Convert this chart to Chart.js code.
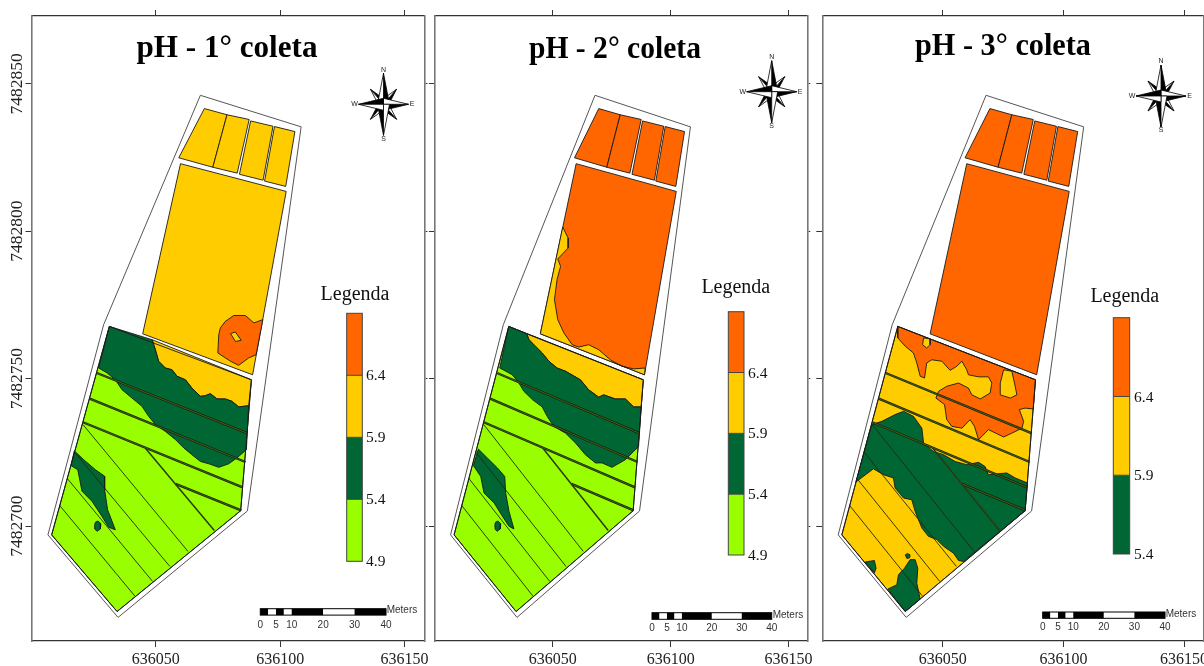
<!DOCTYPE html>
<html lang="pt">
<head>
<meta charset="utf-8">
<title>pH - coletas</title>
<style>
html,body{margin:0;padding:0;background:#fff;width:1204px;height:666px;overflow:hidden}
canvas{position:absolute;top:0}
</style>
<script src="https://cdn.jsdelivr.net/npm/chart.js@4"></script>
</head>
<body>
<script>
// ---------- data: map coordinates in metres, relative to the origin below ----------
const originX = 636000;
const originY = 7482700;
const xTicks = [636050, 636100, 636150];
const yTicks = [7482700, 7482750, 7482800, 7482850];
const xMin = 636000, xMax = 636158, yMin = 7482661, yMax = 7482873;

const titles = ['pH - 1° coleta', 'pH - 2° coleta', 'pH - 3° coleta'];
const legendTitle = 'Legenda';
const lime = '#99ff00', dark = '#006633', yellow = '#ffcc00', orange = '#ff6600';

const legendValuesA = [4.9, 5.4, 5.9, 6.4];
const legendColorsA = [lime, dark, yellow, orange];
const legendValuesC = [5.4, 5.9, 6.4];
const legendColorsC = [dark, yellow, orange];

const scaleBarStops = [0, 2.5, 5, 7.5, 10, 20, 30, 40];
const scaleBarLabels = [0, 5, 10, 20, 30, 40];

const outerBoundary = [[67.9,146.1],[108.4,135.4],[86.8,5.1],[34.8,-31],[6.6,-3],[29,68.3]];
const blockA1 = [[69.5,141.6],[78.6,139.5],[72.9,121.7],[59.2,124.9]];
const blockA2 = [[78.6,139.5],[87.5,137.9],[82.7,119.7],[72.9,121.7]];
const blockA3 = [[88.1,137.4],[97.1,135.6],[93.1,117.3],[83.6,119.3]];
const blockA4 = [[97.7,135.5],[105.9,133.8],[102.2,115.2],[93.7,117]];
const blockB = [[59.9,122.9],[102.4,113.5],[88.9,51.3],[44.7,65.2]];
const blockC = [[31.3,67.7],[88.4,49.6],[84.1,5.2],[34.4,-29],[8.1,-3]];

const strip1 = [[26.3,51.9],[86.7,31.5]];
const strip2 = [[23.4,43.2],[86,21.7]];
const strip3 = [[20.7,35.2],[84.9,13.1]];
const strip4 = [[57.9,14.3],[84.3,5.3]];
const strip5 = [[45.8,26.4],[73.5,-1.5]];
const row1 = [[20.7,34.4],[62.9,-8.6]];
const row2 = [[17.2,25.2],[55.6,-13.7]];
const row3 = [[14.3,16.2],[48.7,-18.8]];
const row4 = [[11.3,7],[41.5,-23.7]];

// 1st collection
const p1Orange = [[75.3,64.9],[75.9,67.2],[77.9,69.4],[81.3,71.4],[86,71.4],[89.4,68.9],[93,70],[90.3,58.1],[87.3,57],[83.3,54.5],[80,55.9],[74.9,58.7]];
const p1OrangeHole = [[80,65.3],[82,65.8],[84.3,63],[82,62.6]];
const p1Yellow = [[48.5,63.2],[49.8,59.8],[51.1,55.9],[53.8,53.6],[56.5,53],[58.5,50.8],[61.9,49.6],[64.5,46.8],[67.9,44],[69.9,44.2],[71.9,44.9],[74.6,43.1],[77.9,43.1],[80.6,42.3],[83.3,40.4],[87.3,40.8],[88.4,49.6]];
const p1Dark = [[31.3,67.7],[48.5,63.2],[49.8,59.8],[51.1,55.9],[53.8,53.6],[56.5,53],[58.5,50.8],[61.9,49.6],[64.5,46.8],[67.9,44],[69.9,44.2],[71.9,44.9],[74.6,43.1],[77.9,43.1],[80.6,42.3],[83.3,40.4],[87.3,40.8],[86.4,25.9],[82.6,23.1],[79.3,21.1],[75.3,19.9],[71.3,21.1],[67.9,21.9],[64.5,24.2],[61.2,26.5],[57.9,29.3],[53.8,32.1],[49.8,34.4],[47.1,37.2],[44.4,40.6],[40.4,43.4],[36.4,46.2],[33.7,49.6],[30.4,51.9],[27,53.6]];
const p1Patch = [[17.2,25.5],[21,22.5],[25.7,19.1],[29.4,16.9],[29.4,12.3],[30.6,5.5],[33.7,-1.3],[31,-0.4],[28.3,3.3],[24.3,8.4],[20.3,11.8],[18.6,19.1],[15.9,20.5]];
const dotDark = [[25.4,0.4],[25.7,1.3],[26.7,1.7],[27.9,0.8],[27.7,-1],[26.3,-1.8],[25.5,-1]];

// 2nd collection
const p2YellowB = [[54.2,101.4],[56.5,97.7],[56.5,94.3],[52.1,90.6],[53.3,88.1],[51.8,83.6],[50.7,76.8],[52.1,70],[54.7,65.5],[58.2,61.5],[61,60.7],[65.2,61.5],[69.5,59.8],[74.4,56.4],[79.3,54.2],[84.3,53.3],[89.2,53.6],[88.9,51.3],[44.7,65.2]];
const p2Yellow = [[38.9,65.2],[39.9,63.2],[42.7,60.9],[45.5,58.7],[48.3,55.9],[51.8,53.6],[55.4,52.5],[61.7,49.6],[65.2,46.2],[69.5,43.7],[71.6,44.5],[76.5,43.1],[80.8,43.1],[84.3,40.4],[87.5,40.4],[88.4,49.6]];
const p2Dark = [[31.3,67.7],[38.9,65.2],[39.9,63.2],[42.7,60.9],[45.5,58.7],[48.3,55.9],[51.8,53.6],[55.4,52.5],[61.7,49.6],[65.2,46.2],[69.5,43.7],[71.6,44.5],[76.5,43.1],[80.8,43.1],[84.3,40.4],[87.5,40.4],[86.4,27],[84.3,25.3],[80.8,22.5],[75.1,19.9],[70.9,21.4],[68.1,21.4],[63.8,24.2],[59.6,28.2],[55.4,31.5],[50.4,33.8],[47.6,37.2],[45.5,40.4],[41.3,42.9],[37.7,45.7],[35.6,48.5],[32.8,51.3],[27.5,53.6]];
const p2Patch = [[18.4,26.1],[22.2,23.1],[26.5,19.7],[29.6,16.8],[30,11.2],[31.4,5],[33.5,-1],[31.4,-0.1],[28.6,3.3],[25.1,7.8],[20.8,11.2],[19.4,16.8],[16.3,20.5]];

// 3rd collection
const p3Orange = [[31.3,63.8],[34.4,61],[37.8,58.7],[39.2,55.3],[40.6,50.8],[42.4,50.2],[43.3,55.3],[45.4,56.4],[49.6,55.9],[53,52.8],[55.8,54.2],[57.9,55.9],[59.9,53],[60.6,51.3],[64.8,50.6],[68.9,50.6],[70.3,48.5],[69.6,45.1],[65.5,43.1],[62,44.5],[60.6,46.8],[56.5,48.5],[51.6,47.4],[48.2,45.7],[47.1,43.4],[50.7,41.2],[51.6,36.1],[53.7,33.8],[57.9,33.2],[61.3,36.1],[63.1,33.8],[64.8,29.3],[68.9,32.7],[75.2,30.2],[78.6,31.5],[82.8,33.2],[83.5,35.5],[81.7,39.5],[84.1,40],[87.5,39.7],[88.4,49.6],[31.3,67.7]];
const p3Island1 = [[42,63.8],[44.7,63.5],[44.7,61.5],[43.3,60.4],[41.6,61.5]];
const p3Island2 = [[75.2,53],[78.6,52.5],[79.7,48.5],[80.7,44.5],[78,43.4],[73.8,44.5],[73.8,48.5]];
const p3Dark = [[20.5,34.4],[24.7,35.5],[30.2,37.8],[33.7,38.9],[37.8,37.2],[41.3,33.2],[42,28.1],[46.1,25.3],[50.3,24.2],[55.1,21.9],[59.9,20.8],[64.8,21.6],[67.5,20.2],[68.9,17.4],[76.5,18],[80,16.3],[85.1,14.6],[84.1,5.2],[58.6,-12],[56.5,-11.7],[54.4,-9.2],[50.3,-6.9],[47.5,-4.6],[44,-3.5],[41.3,-0.7],[38.5,5],[37.1,8.9],[33.7,9.5],[30.2,12.9],[29.5,16.3],[25.4,17.4],[21.2,19.4],[13.9,14.9]];
const p3DarkTip = [[34.4,-29],[40.6,-24.8],[39.2,-19.4],[39.6,-14.3],[38.5,-11.4],[36.4,-11.4],[34.1,-14.3],[31.6,-16.5],[30.9,-19.9],[27.2,-21.4]];
const p3DarkDot = [[34.4,-9.8],[35.3,-9.3],[36.4,-9.8],[36.2,-10.8],[35.1,-11]];
const p3DarkEdge = [[17.8,-12.2],[21.6,-11.7],[22.3,-14.3],[21.6,-15.9]];

// ---------- layout of the three map sheets ----------
const FONT_SERIF = '"Liberation Serif","DejaVu Serif",serif';
const FONT_SANS = '"Liberation Sans Narrow","Liberation Sans",sans-serif';
const H = 666, TOP = 16, BOTTOM = 25;
const sheets = [
 { left:0, width:437, axisL:31.5, axisR:12.5, yLabels:true,
   title:{x:227,y:57,w:181}, compass:{x:383.5,y:104.3},
   legend:{tx:355,ty:300,x:346.7,w:15.6,top:313.3,bottom:561.3,lx:366,values:legendValuesA,colors:legendColorsA},
   bar:{x:260.3,w:125.7,y:608.7,h:6.4,ly:625,mx:386.7,my:610.5},
   blocks:yellow, base:lime,
   zones:[[p1Orange,orange],[p1OrangeHole,yellow],[p1Yellow,yellow],[p1Dark,dark],[p1Patch,dark],[dotDark,dark]] },
 { left:429, width:390, axisL:6, axisR:11.7, yLabels:false,
   title:{x:615,y:58,w:172}, compass:{x:771.7,y:91.7},
   legend:{tx:735.8,ty:293,x:728.3,w:15.7,top:311.7,bottom:555,lx:748,values:legendValuesA,colors:legendColorsA},
   bar:{x:652,w:119.7,y:612.7,h:6.6,ly:628.7,mx:772.7,my:615},
   blocks:orange, base:lime,
   zones:[[p2YellowB,yellow],[p2Yellow,yellow],[p2Dark,dark],[p2Patch,dark],[dotDark,dark]] },
 { left:816, width:400, axisL:6.3, axisR:12.7, yLabels:false,
   title:{x:1003,y:55,w:176}, compass:{x:1161,y:96},
   legend:{tx:1124.8,ty:302,x:1113.3,w:16.4,top:317.7,bottom:554,lx:1134,values:legendValuesC,colors:legendColorsC},
   bar:{x:1042.7,w:122.3,y:612,h:6.3,ly:627.7,mx:1165.7,my:614},
   blocks:orange, base:yellow,
   zones:[[p3Orange,orange],[p3Island1,yellow],[p3Island2,yellow],[p3Dark,dark],[p3DarkTip,dark],[p3DarkDot,dark],[p3DarkEdge,dark]] }
];

// ---------- helpers ----------
const toPoints = a => a.map(p => ({x: originX + p[0], y: originY + p[1]}));
const closed = a => toPoints(a.concat([a[0]]));
const polygon = (pts, fillColor, line='#1a1a1a', w=0.9) => ({
  type:'scatter', data:closed(pts), showLine:true, fill:'shape',
  backgroundColor:fillColor, borderColor:line, borderWidth:w,
  pointRadius:0, pointHoverRadius:0, tension:0
});
const polyline = (pts, color, w) => ({
  type:'scatter', data:toPoints(pts), showLine:true, fill:false,
  borderColor:color, borderWidth:w, pointRadius:0, pointHoverRadius:0, tension:0
});

function drawCompass(ctx, c){
  const rx=25, ry=31, dx=13, dy=15, hub=6;
  const spike=(tx,ty,h)=>{
    const len=Math.hypot(tx,ty), nx=-ty/len*h, ny=tx/len*h, hx=c.x+nx, hy=c.y+ny;
    ctx.lineWidth=0.8; ctx.strokeStyle='#000';
    ctx.beginPath(); ctx.moveTo(c.x,c.y); ctx.lineTo(c.x+tx,c.y+ty); ctx.lineTo(hx,hy); ctx.closePath();
    ctx.fillStyle='#000'; ctx.fill(); ctx.stroke();
    ctx.beginPath(); ctx.moveTo(c.x,c.y); ctx.lineTo(c.x+tx,c.y+ty); ctx.lineTo(c.x-nx,c.y-ny); ctx.closePath();
    ctx.fillStyle='#fff'; ctx.fill(); ctx.stroke();
  };
  [[dx,-dy],[dx,dy],[-dx,dy],[-dx,-dy]].forEach(d=>spike(d[0],d[1],hub*0.8));
  [[0,-ry],[rx,0],[0,ry],[-rx,0]].forEach(d=>spike(d[0],d[1],hub));
  ctx.fillStyle='#222'; ctx.font='7px '+FONT_SANS; ctx.textAlign='center'; ctx.textBaseline='middle';
  ctx.fillText('N',c.x,c.y-ry-3.5);
  ctx.fillText('S',c.x,c.y+ry+3.5);
  ctx.fillText('E',c.x+rx+3.5,c.y);
  ctx.fillText('W',c.x-rx-4,c.y);
}

const decor = {
  id:'decor',
  afterDraw(chart, args, opts){
    const s=opts.sheet, idx=opts.index, ctx=chart.ctx;
    ctx.save();
    ctx.translate(-s.left,0);
    // title
    ctx.fillStyle='#000'; ctx.font='bold 32px '+FONT_SERIF;
    ctx.textAlign='center'; ctx.textBaseline='alphabetic';
    ctx.fillText(titles[idx], s.title.x, s.title.y, s.title.w);
    drawCompass(ctx,s.compass);
    // legend
    const L=s.legend, n=L.values.length;
    ctx.fillStyle='#111'; ctx.font='20px '+FONT_SERIF;
    ctx.textAlign='center'; ctx.textBaseline='alphabetic';
    ctx.fillText(legendTitle,L.tx,L.ty);
    const step=(L.bottom-L.top)/n;
    L.colors.forEach((col,i)=>{
      const y1=L.bottom-step*i, y0=y1-step;
      ctx.fillStyle=col; ctx.fillRect(L.x,y0,L.w,step);
    });
    ctx.strokeStyle='#444'; ctx.lineWidth=1;
    ctx.strokeRect(L.x,L.top,L.w,L.bottom-L.top);
    L.values.forEach((v,i)=>{
      const y=L.bottom-step*i;
      if(i>0){ ctx.beginPath(); ctx.moveTo(L.x,y); ctx.lineTo(L.x+L.w,y); ctx.stroke(); }
      ctx.fillStyle='#111'; ctx.font='15.5px '+FONT_SERIF;
      ctx.textAlign='left'; ctx.textBaseline='middle';
      ctx.fillText(v.toFixed(1),L.lx,y+1);
    });
    // scale bar
    const b=s.bar, px=m=>b.x+b.w*m/40;
    for(let i=0;i<scaleBarStops.length-1;i++){
      const a0=px(scaleBarStops[i]), a1=px(scaleBarStops[i+1]);
      ctx.fillStyle=i%2?'#fff':'#000';
      ctx.fillRect(a0,b.y,a1-a0,b.h);
    }
    ctx.strokeStyle='#000'; ctx.lineWidth=1; ctx.strokeRect(b.x,b.y,b.w,b.h);
    ctx.fillStyle='#333'; ctx.font='10px '+FONT_SANS; ctx.textAlign='center'; ctx.textBaseline='middle';
    scaleBarLabels.forEach(m=>ctx.fillText(String(m),px(m),b.ly));
    ctx.textAlign='left';
    ctx.fillText('Meters',b.mx,b.my);
    ctx.restore();
  }
};

// ---------- build one Chart.js chart per sheet ----------
sheets.forEach((s,idx)=>{
  const cv=document.createElement('canvas');
  cv.width=s.width; cv.height=H;
  cv.style.left=s.left+'px'; cv.style.width=s.width+'px'; cv.style.height=H+'px';
  document.body.appendChild(cv);

  const bottomUp=[
    polygon(outerBoundary,'#ffffff','#555',1),
    polygon(blockA1,s.blocks), polygon(blockA2,s.blocks), polygon(blockA3,s.blocks), polygon(blockA4,s.blocks),
    polygon(blockB,s.blocks),
    polygon(blockC,s.base)
  ];
  s.zones.forEach(z=>bottomUp.push(polygon(z[0],z[1],'#1a1a1a',0.9)));
  [row1,row2,row3,row4].forEach(r=>bottomUp.push(polyline(r,'#1c2a10',0.9)));
  [strip1,strip2,strip3,strip4].forEach(r=>{
    bottomUp.push(polyline(r,'#14200c',2.3));
    bottomUp.push(polyline(r,'#6f8a20',0.6));
  });
  bottomUp.push(polyline(strip5,'#2a3a14',1.5));
  bottomUp.push(polygon(blockC,'rgba(0,0,0,0)','#1a1a1a',0.9));

  const setTicks=list=>(scale=>{scale.ticks=list.map(v=>({value:v}));});
  const side=(position,size,extra)=>Object.assign({
    type:'linear', position,
    grid:{drawOnChartArea:false,drawTicks:true,tickLength:6,color:'#333'},
    afterFit(scale){
      if(scale.isHorizontal()) scale.height=size; else scale.width=size;
    }
  },extra);
  const xRange={min:xMin,max:xMax,afterBuildTicks:setTicks(xTicks)};
  const yRange={min:yMin,max:yMax,afterBuildTicks:setTicks(yTicks)};
  const dim={color:'#777',width:1.6}, strong={color:'#333',width:1.2};

  new Chart(cv,{
    data:{datasets:bottomUp.slice().reverse()},
    plugins:[decor],
    options:{
      responsive:false, animation:false, events:[],
      layout:{padding:0},
      plugins:{legend:{display:false},tooltip:{enabled:false},title:{display:false},decor:{sheet:s,index:idx}},
      scales:{
        x:side('bottom',BOTTOM,Object.assign({border:strong,
          ticks:{autoSkip:false,maxRotation:0,minRotation:0,padding:3,color:'#222',
                 font:{family:FONT_SERIF,size:16},callback:v=>String(v)}},xRange)),
        xTop:side('top',TOP,Object.assign({border:strong,ticks:{display:false,autoSkip:false,maxRotation:0}},xRange)),
        y:side('left',s.axisL,Object.assign({border:dim,
          ticks:s.yLabels?{display:true,autoSkip:false,minRotation:90,maxRotation:90,crossAlign:'center',
                 padding:-23,color:'#222',font:{family:FONT_SERIF,size:17.5},callback:v=>String(v)}
               :{display:false,autoSkip:false}},yRange)),
        yRight:side('right',s.axisR,Object.assign({border:dim,
          grid:{drawOnChartArea:false,drawTicks:true,tickLength:3,color:'#333'},
          ticks:{display:false,autoSkip:false}},yRange))
      }
    }
  });
});
</script>
</body>
</html>
